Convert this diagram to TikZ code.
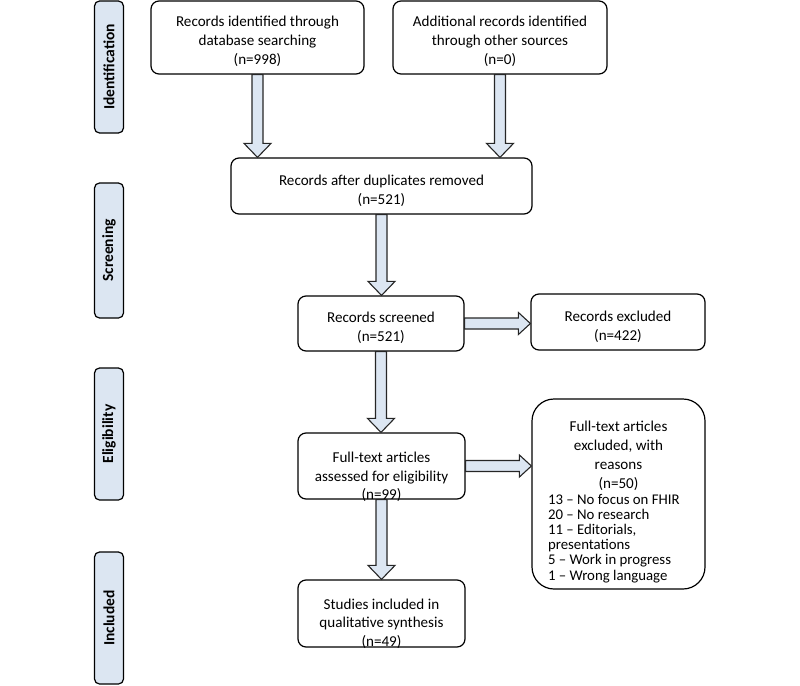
\documentclass[tikz,border=0pt]{standalone}
\usepackage{fontspec}
\setmainfont{Carlito}
\usetikzlibrary{calc}
\definecolor{lblue}{HTML}{DCE6F2}
\definecolor{edge}{HTML}{262626}
\tikzset{
  box/.style={draw=black, line width=1.2pt, rounded corners=8pt, fill=white, inner sep=0pt},
  txt/.style={align=center, inner sep=0pt, font=\fontsize{15.1}{18.7}\selectfont},
  side/.style={draw=black, line width=1.2pt, rounded corners=5pt, fill=lblue, minimum height=29pt, inner sep=0pt, font=\bfseries\fontsize{15.5}{17}\selectfont, rotate=90},
  barrow/.style={draw=edge, line width=1.1pt, fill=lblue, line join=miter}
}
\newcommand\downarr[2]{%
  \draw[barrow] let \p1=(#1.south), \p2=(#1.south |- #2.north) in
    (\x1-5.5pt,\y1) -- (\x1-5.5pt,\y2+14pt) -- (\x1-13.5pt,\y2+14pt) -- (\x2,\y2)
    -- (\x1+13.5pt,\y2+14pt) -- (\x1+5.5pt,\y2+14pt) -- (\x1+5.5pt,\y1) -- cycle;}
\newcommand\rightarr[2]{%
  \draw[barrow] let \p1=(#1.east), \p2=(#1.east -| #2.west) in
    (\x1,\y1+5.5pt) -- (\x2-12pt,\y1+5.5pt) -- (\x2-12pt,\y1+11pt) -- (\x2,\y1)
    -- (\x2-12pt,\y1-11pt) -- (\x2-12pt,\y1-5.5pt) -- (\x1,\y1-5.5pt) -- cycle;}
\begin{document}
\begin{tikzpicture}
\useasboundingbox (0,0) rectangle (800pt,-685pt);
% side labels
\node[side, minimum width=132pt] (sid) at (109pt,-67pt) {Identification};
\node[side, minimum width=135pt] (ssc) at (109pt,-250.5pt) {Screening};
\node[side, minimum width=132pt] (sel) at (109pt,-434pt) {Eligibility};
\node[side, minimum width=132pt] (sin) at (109pt,-618pt) {Included};
% boxes
\node[box, minimum width=213pt, minimum height=73pt] (b1) at (257.5pt,-37.5pt) {};
\node[txt] (t1) at ($(b1.center)+(0,-4pt)$) {Records identified through\\database searching\\(n=998)};
\node[box, minimum width=214pt, minimum height=73pt] (b2) at (500pt,-37.5pt) {};
\node[txt] (t2) at ($(b2.center)+(0,-4pt)$) {Additional records identified\\through other sources\\(n=0)};
\node[box, minimum width=301pt, minimum height=56pt] (b3) at (381.5pt,-186pt) {};
\node[txt] (t3) at ($(b3.center)+(0,-4.5pt)$) {Records after duplicates removed\\(n=521)};
\node[box, minimum width=166pt, minimum height=55pt] (b4) at (381pt,-323.5pt) {};
\node[txt] (t4) at ($(b4.center)+(0,-4.5pt)$) {Records screened\\(n=521)};
\node[box, minimum width=174pt, minimum height=56pt] (b5) at (618pt,-322pt) {};
\node[txt] (t5) at ($(b5.center)+(0,-4.5pt)$) {Records excluded\\(n=422)};
\node[box, minimum width=167pt, minimum height=66pt] (b6) at (381.5pt,-466pt) {};
\node[txt] (t6) at ($(b6.center)+(0,-11pt)$) {Full-text articles\\assessed for eligibility\\(n=99)};
\node[box, minimum width=167pt, minimum height=67pt] (b7) at (381.5pt,-613.5pt) {};
\node[txt] (t7) at ($(b7.center)+(0,-10pt)$) {Studies included in\\qualitative synthesis\\(n=49)};
\node[box, rounded corners=22pt, minimum width=173pt, minimum height=190pt] (b8) at (618.5pt,-494pt) {};
\node[inner sep=0pt] (t8) at ($(b8.center)+(0,-8pt)$) {\begin{minipage}{141pt}\centering\fontsize{15.1}{19}\selectfont
Full-text articles\\excluded, with\\reasons\\(n=50)\par
\raggedright\fontsize{14.8}{15.2}\selectfont
13 – No focus on FHIR\\20 – No research\\11 – Editorials,\\presentations\\5 – Work in progress\\1 – Wrong language\end{minipage}};
% arrows
\downarr{b1}{b3}
\downarr{b2}{b3}
\downarr{b3}{b4}
\downarr{b4}{b6}
\downarr{b6}{b7}
\rightarr{b4}{b5}
\rightarr{b6}{b8}
\end{tikzpicture}
\end{document}
